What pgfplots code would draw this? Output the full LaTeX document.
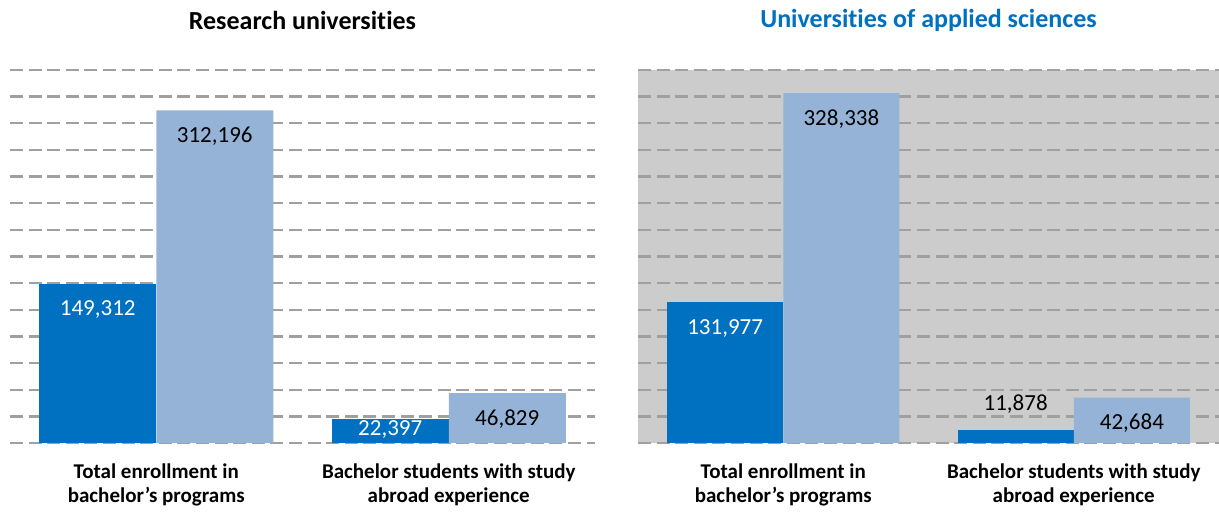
\documentclass[border=0pt]{standalone}
\usepackage{fontspec}
\setmainfont{Carlito}[Ligatures={NoCommon}]
\usepackage{pgfplots}
\pgfplotsset{compat=1.18}
\definecolor{dblue}{HTML}{0070C0}
\definecolor{lblue}{HTML}{95B3D7}
\definecolor{gridgray}{HTML}{A0A0A0}
\definecolor{bggray}{HTML}{CCCCCC}
\pgfplotsset{panel/.style={
  scale only axis, width=292.5pt, height=186.5pt,
  ybar, bar width=0.4, ymin=0, ymax=350000,
  xmin=-0.5, xmax=1.5, xtick={0,1},
  ytick={0,25000,...,350000}, yticklabels={}, scaled y ticks=false,
  axis line style={draw=none}, major tick length=0pt,
  ymajorgrids, grid style={gridgray, line width=1.15pt, dash pattern=on 6.5pt off 2.8pt},
  xticklabel style={font=\fontsize{10.5}{11.8}\selectfont\bfseries, align=center, anchor=center, yshift=-21pt},
  xticklabels={{Total enrollment in\\bachelor’s programs},{Bachelor students with study\\abroad experience}},
  title style={font=\fontsize{13}{15}\selectfont\bfseries, at={(0.5,1)}, anchor=center, yshift=19pt},
  point meta=explicit symbolic,
  nodes near coords,
  nodes near coords style={font=\fontsize{11.5}{13}\selectfont, anchor=center},
  every axis plot/.append style={draw=none},
}}
\begin{document}
\begin{tikzpicture}
\path[use as bounding box] (0,0) rectangle (609.5pt,256.5pt);
\begin{axis}[panel, at={(5pt,35pt)}, anchor=south west, title={Research universities}]
\addplot[fill=dblue, bar shift=-0.2, nodes near coords style={text=white, yshift=-13pt}] coordinates {(0,149312) [{149,312}]};
\addplot[fill=dblue, bar shift=-0.2, nodes near coords style={text=white, yshift=-5pt}] coordinates {(1,22397) [{22,397}]};
\addplot[fill=lblue, bar shift=0.2, nodes near coords style={text=black, yshift=-13pt}] coordinates {(0,312196) [{312,196}] (1,46829) [{46,829}]};
\end{axis}
\begin{axis}[panel, at={(319pt,35pt)}, anchor=south west, width=290.5pt,
  axis background/.style={fill=bggray},
  title={Universities of applied sciences}, title style={text=dblue}]
\addplot[fill=dblue, bar shift=-0.2, nodes near coords style={text=white, yshift=-13pt}] coordinates {(0,131977) [{131,977}]};
\addplot[fill=dblue, bar shift=-0.2, nodes near coords style={text=black, yshift=13pt}] coordinates {(1,11878) [{11,878}]};
\addplot[fill=lblue, bar shift=0.2, nodes near coords style={text=black, yshift=-13pt}] coordinates {(0,328338) [{328,338}] (1,42684) [{42,684}]};
\end{axis}
\end{tikzpicture}
\end{document}
